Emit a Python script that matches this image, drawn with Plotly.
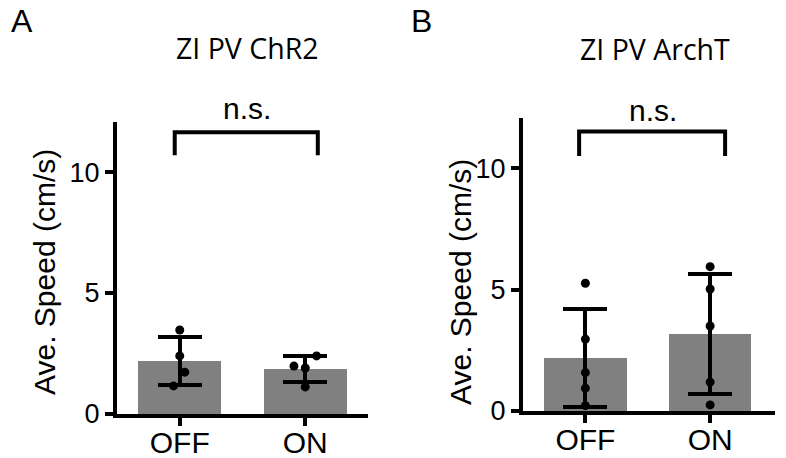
import plotly.graph_objects as go

W, H = 786, 458

categories = ["OFF", "ON"]

# Panel A: ZI PV ChR2
a_means = [2.19, 1.86]
a_sd = [0.99, 0.52]
a_off_pts = [3.47, 2.40, 1.73, 1.16]
a_on_pts = [2.40, 1.98, 1.90, 1.12]
a_off_jit = [0.0, 0.0, 0.04, -0.05]
a_on_jit = [0.09, -0.09, 0.0, 0.0]

# Panel B: ZI PV ArchT
b_means = [2.18, 3.17]
b_sd = [2.00, 2.45]
b_off_pts = [5.26, 2.96, 1.58, 0.94, 0.22]
b_on_pts = [5.94, 5.02, 3.50, 1.19, 0.25]
b_off_jit = [0.0, 0.0, 0.0, 0.0, 0.0]
b_on_jit = [0.0, 0.0, 0.0, 0.0, 0.0]

y_ticks = [0, 5, 10]

fig = go.Figure()


def px_x(x):
    return x / W


def px_y(y):
    return 1 - y / H


panels = [
    dict(xa="x", ya="y", means=a_means, sd=a_sd,
         pts=[(a_off_pts, a_off_jit), (a_on_pts, a_on_jit)]),
    dict(xa="x2", ya="y2", means=b_means, sd=b_sd,
         pts=[(b_off_pts, b_off_jit), (b_on_pts, b_on_jit)]),
]

for p in panels:
    fig.add_trace(go.Bar(
        x=[0, 1], y=p["means"], width=0.66,
        marker=dict(color="#808080", line=dict(width=0)),
        error_y=dict(type="data", array=p["sd"], visible=True,
                     thickness=4, width=22, color="black"),
        xaxis=p["xa"], yaxis=p["ya"], showlegend=False,
    ))
    for i, (vals, jit) in enumerate(p["pts"]):
        fig.add_trace(go.Scatter(
            x=[i + j for j in jit], y=vals, mode="markers",
            marker=dict(color="black", size=9),
            xaxis=p["xa"], yaxis=p["ya"], showlegend=False,
            cliponaxis=False,
        ))

axis_common = dict(showgrid=False, zeroline=False, showline=True,
                   linecolor="black", linewidth=4, ticks="outside",
                   ticklen=8, tickwidth=4, tickcolor="black",
                   automargin=False)

xfont = dict(family="Liberation Sans, Arial", size=30, color="black")
yfont = dict(family="Liberation Sans, Arial", size=27, color="black")

fig.update_layout(
    width=W, height=H,
    margin=dict(l=0, r=0, t=0, b=0, autoexpand=False),
    paper_bgcolor="white", plot_bgcolor="white",
    bargap=0,
    xaxis=dict(domain=[px_x(117), px_x(368)], range=[-0.5, 1.5],
               tickvals=[0, 1], ticktext=categories, tickfont=xfont,
               ticklabelstandoff=-9, anchor="y", **axis_common),
    yaxis=dict(domain=[px_y(414), px_y(122)], range=[0, 12.07],
               tickvals=y_ticks, tickfont=yfont, anchor="x", **axis_common),
    xaxis2=dict(domain=[px_x(523), px_x(775)], range=[-0.5, 1.52],
                tickvals=[0, 1], ticktext=categories, tickfont=xfont,
                ticklabelstandoff=-9, anchor="y2", **axis_common),
    yaxis2=dict(domain=[px_y(411), px_y(118)], range=[0, 12.06],
                tickvals=y_ticks, tickfont=yfont, anchor="x2", **axis_common),
)

# significance brackets (data coords)
brackets = [
    dict(xr="x", yr="y", x0=-0.04, x1=1.10, ytop=11.65, ybot=10.7),
    dict(xr="x2", yr="y2", x0=-0.05, x1=1.12, ytop=11.5, ybot=10.5),
]
for b in brackets:
    fig.add_shape(type="path",
                  path=f"M {b['x0']},{b['ybot']} L {b['x0']},{b['ytop']} L {b['x1']},{b['ytop']} L {b['x1']},{b['ybot']}",
                  xref=b["xr"], yref=b["yr"],
                  line=dict(color="black", width=4))

ann_font_title = dict(family="Open Sans", size=28.5, color="black")
ann_font_ax = dict(family="Liberation Sans, Arial", size=30, color="black")
ann_font_letter = dict(family="Liberation Sans, Arial", size=32, color="black")

texts = [
    ("A", 21.5, 21, ann_font_letter, 0),
    ("B", 421.5, 21, ann_font_letter, 0),
    ("ZI PV ChR2", 247.5, 48, ann_font_title, 0),
    ("ZI PV ArchT", 655, 49, ann_font_title, 0),
    ("n.s.", 247, 108, ann_font_ax, 0),
    ("n.s.", 653, 110, ann_font_ax, 0),
    ("Ave. Speed (cm/s)", 44, 272, ann_font_ax, -90),
    ("Ave. Speed (cm/s)", 460, 282, ann_font_ax, -90),
]
for t, x, y, f, ang in texts:
    fig.add_annotation(text=t, x=px_x(x), y=px_y(y), xref="paper", yref="paper",
                       xanchor="center", yanchor="middle", showarrow=False,
                       font=f, textangle=ang)

fig.write_html("out.html", config={"displayModeBar": False},
               post_script="document.body.style.margin='0px';document.body.style.overflow='hidden';")
